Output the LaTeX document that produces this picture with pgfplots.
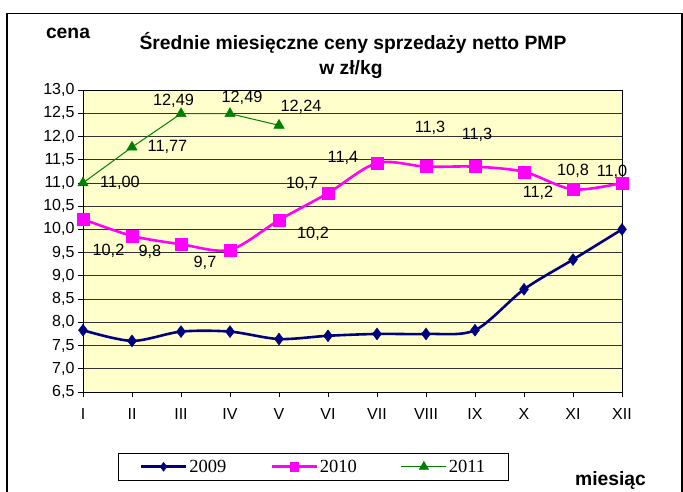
\documentclass[border=0pt]{standalone}
\usepackage{pgfplots}
\pgfplotsset{compat=1.18}
\usepackage{fontspec}
\setmainfont{Liberation Sans}
\newfontfamily\timesf{Liberation Serif}
\definecolor{c09}{HTML}{000080}
\definecolor{c10}{HTML}{FF00FF}
\definecolor{c11}{HTML}{008000}
\definecolor{bgy}{HTML}{FFFFCC}
\newcommand\lbl{\fontsize{16.3bp}{19bp}\selectfont}
\newcommand\ttl{\bfseries\fontsize{19.3bp}{23bp}\selectfont}
\begin{document}
\begin{tikzpicture}
\useasboundingbox (0,0) rectangle (683bp,492bp);
\draw[line width=1.2bp] (7bp,0bp) -- (7bp,478.5bp) -- (682bp,478.5bp) -- (682bp,0bp);
\begin{axis}[
  at={(83bp,100bp)}, anchor=south west,
  scale only axis, width=539bp, height=302bp,
  xmin=0, xmax=11, ymin=6.5, ymax=13,
  clip=false,
  axis background/.style={fill=bgy},
  xtick={0,...,11},
  xticklabels={I,II,III,IV,V,VI,VII,VIII,IX,X,XI,XII},
  ytick={6.5,7,...,13},
  xtick pos=lower, ytick pos=left,
  ymajorgrids, major grid style={black!80, line width=0.7bp},
  axis line style={black, line width=0.8bp},
  tick align=outside, major tick length=5bp,
  tick style={black, line width=0.8bp},
  ticklabel style={font=\fontsize{16bp}{19bp}\selectfont},
  yticklabel style={/pgf/number format/.cd, fixed, fixed zerofill, precision=1, use comma, assume math mode=true},
  xticklabel style={yshift=-8bp},
  legend image code/.code={\draw[mark repeat=2,mark phase=2,#1] plot coordinates {(0bp,0bp) (22.5bp,0bp) (45bp,0bp)};},
  legend columns=3,
  legend style={at={(axis description cs:0.4276,-0.202)}, anchor=north,
    draw=black, line width=0.8bp, inner xsep=21bp, inner ysep=4.5bp,
    font=\timesf\fontsize{18.5bp}{21bp}\selectfont,
    /tikz/every even column/.append style={column sep=42bp}},
]
\addlegendimage{c09, line width=2.6bp, mark=diamond*, mark size=4.5bp, mark options={line width=0.4bp, fill=c09}}
\addlegendentry{2009}
\addlegendimage{c10, line width=2.6bp, mark=square*, mark size=4.2bp, mark options={line width=0.4bp, fill=c10}}
\addlegendentry{2010}
\addlegendimage{c11, line width=1bp, mark=triangle*, mark size=5.5bp, mark options={line width=0.4bp, fill=c11}}
\addlegendentry{2011}

\addplot[c09, line width=2.6bp, smooth, tension=0.5, mark=diamond*, mark size=6bp,
  mark options={line width=0.4bp, fill=c09}, forget plot] coordinates {
  (0,7.83) (1,7.60) (2,7.80) (3,7.80) (4,7.64) (5,7.71) (6,7.75) (7,7.75) (8,7.83) (9,8.71) (10,9.35) (11,10.00)};
\addplot[c10, line width=2.6bp, smooth, tension=0.5, mark=square*, mark size=6bp,
  mark options={line width=0.4bp, fill=c10}, forget plot] coordinates {
  (0,10.22) (1,9.86) (2,9.68) (3,9.56) (4,10.20) (5,10.78) (6,11.43) (7,11.35) (8,11.35) (9,11.24) (10,10.86) (11,11.00)};
\addplot[c11, line width=1bp, mark=triangle*, mark size=6bp,
  mark options={line width=0.4bp, fill=c11}, forget plot] coordinates {
  (0,11.00) (1,11.77) (2,12.49) (3,12.49) (4,12.24)};

% data labels 2011
\node[font=\lbl] at (axis cs:0.755,11.00) {11,00};
\node[font=\lbl] at (axis cs:1.724,11.78) {11,77};
\node[font=\lbl] at (axis cs:1.847,12.76) {12,49};
\node[font=\lbl] at (axis cs:3.245,12.83) {12,49};
\node[font=\lbl] at (axis cs:4.449,12.63) {12,24};
% data labels 2010
\node[font=\lbl] at (axis cs:0.520,9.53) {10,2};
\node[font=\lbl] at (axis cs:1.367,9.51) {9,8};
\node[font=\lbl] at (axis cs:2.490,9.28) {9,7};
\node[font=\lbl] at (axis cs:4.694,9.90) {10,2};
\node[font=\lbl] at (axis cs:4.469,10.99) {10,7};
\node[font=\lbl] at (axis cs:5.306,11.54) {11,4};
\node[font=\lbl] at (axis cs:7.082,12.18) {11,3};
\node[font=\lbl] at (axis cs:8.041,12.03) {11,3};
\node[font=\lbl] at (axis cs:9.286,10.78) {11,2};
\node[font=\lbl] at (axis cs:10.0,11.26) {10,8};
\node[font=\lbl] at (axis cs:10.796,11.24) {11,0};
\end{axis}
\node[anchor=base, font=\ttl] at (68bp,453.7bp) {cena};
\node[anchor=base, font=\ttl] at (353bp,442bp) {Średnie miesięczne ceny sprzedaży netto PMP};
\node[anchor=base, font=\ttl] at (351bp,417bp) {w zł/kg};
\node[anchor=base, font=\ttl] at (610.5bp,7bp) {miesiąc};
\end{tikzpicture}
\end{document}
